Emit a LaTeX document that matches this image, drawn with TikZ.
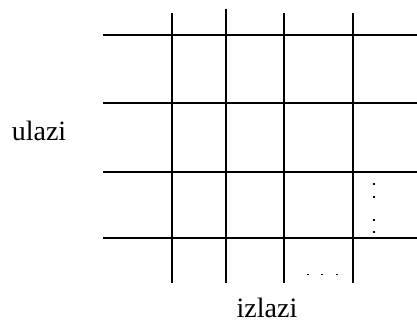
\documentclass[tikz,border=0pt]{standalone}
\usepackage{fontspec}
\setmainfont{Liberation Serif}
\usepackage{tikz}
\usetikzlibrary{positioning}

\begin{document}
\begin{tikzpicture}[
    x=1pt, y=-1pt,
    gridline/.style={draw=black, line width=1.5pt},
    label/.style={font=\fontsize{28}{30}\selectfont, anchor=base, inner sep=0pt}
]
\useasboundingbox (0,0) rectangle (417,322);
% rows
\foreach \y in {35,103,172,238}
    \draw[gridline] (103,\y) -- (417,\y);
% columns
\foreach \x/\top in {172/13,226/9,284/13,353/13}
    \draw[gridline] (\x,\top) -- (\x,283);
% dots
\foreach \y in {183,196,219,231}
    \fill (372.5,\y) rectangle (374.5,\y+2);
\foreach \x in {307,321,336}
    \fill (\x,273.5) rectangle (\x+2,274.5);
\node[label] (ulazi) at (39,140) {ulazi};
\node[label] (izlazi) at (267,317) {izlazi};
\end{tikzpicture}
\end{document}
